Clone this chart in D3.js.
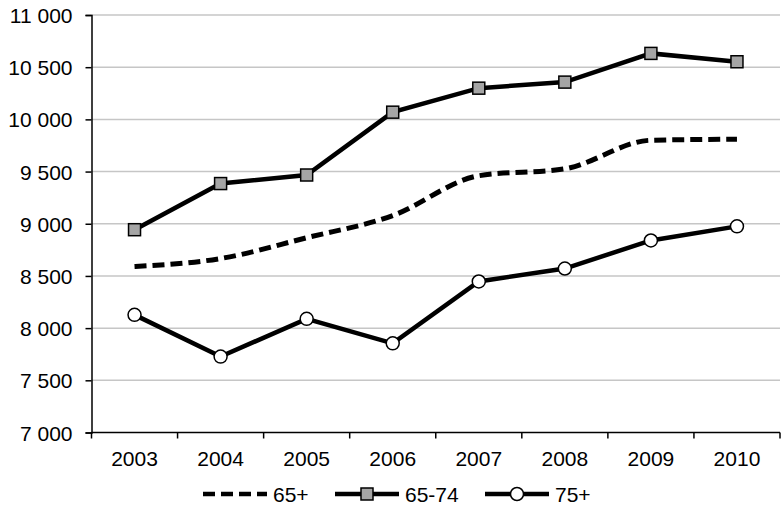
<!DOCTYPE html>
<html>
<head>
<meta charset="utf-8">
<script src="https://d3js.org/d3.v7.min.js"></script>
<style>
    body { margin: 0; background: #fff; }
    svg text { font-family: "Liberation Sans", Arial, sans-serif; fill: #000; }
</style>
</head>
<body>
<div id="chart"></div>
<script>
// data
const years = ["2003", "2004", "2005", "2006", "2007", "2008", "2009", "2010"];
const all65 = [8591, 8667, 8866, 9078, 9460, 9526, 9800, 9810];
const age6574 = [8943, 9385, 9467, 10069, 10299, 10357, 10632, 10552];
const age75 = [8127, 7727, 8089, 7854, 8447, 8571, 8840, 8975];
const yTicks = [7000, 7500, 8000, 8500, 9000, 9500, 10000, 10500, 11000];

const width = 783, height = 516;
const margin = { top: 15, right: 3, bottom: 84, left: 91.5 };
const fontSize = 21;

const svg = d3.select("#chart").append("svg")
    .attr("width", width)
    .attr("height", height);

const x = d3.scaleBand()
    .domain(years)
    .range([margin.left, width - margin.right]);

const y = d3.scaleLinear()
    .domain([7000, 11000])
    .range([height - margin.bottom + 0.5, margin.top]);

const fmt = v => d3.format(",")(v).replace(",", " ");

// gridlines
svg.append("g")
    .selectAll("line")
    .data(yTicks.slice(1))
    .enter().append("line")
    .attr("x1", margin.left)
    .attr("x2", width - margin.right)
    .attr("y1", d => y(d))
    .attr("y2", d => y(d))
    .attr("stroke", "#c6c6c6")
    .attr("stroke-width", 1.5);

// y axis
const yAxis = svg.append("g")
    .attr("transform", `translate(${margin.left},0)`)
    .call(d3.axisLeft(y).tickValues(yTicks).tickFormat(fmt).tickSize(6).tickPadding(13));
yAxis.select(".domain").attr("stroke-width", 1.5);
yAxis.selectAll(".tick line").attr("stroke-width", 1.5);
yAxis.selectAll("text").attr("font-size", fontSize).attr("dy", "0.36em");

// x axis with boundary ticks
const xAxis = svg.append("g")
    .attr("transform", `translate(0,${y(7000)})`);
xAxis.append("line")
    .attr("x1", margin.left).attr("x2", width - margin.right)
    .attr("stroke", "#000").attr("stroke-width", 1.5);
xAxis.selectAll(".tk")
    .data(years.concat(["end"]))
    .enter().append("line")
    .attr("class", "tk")
    .attr("x1", (d, i) => i < years.length ? x(d) : x(years[years.length - 1]) + x.bandwidth())
    .attr("x2", (d, i) => i < years.length ? x(d) : x(years[years.length - 1]) + x.bandwidth())
    .attr("y1", 0).attr("y2", 6)
    .attr("stroke", "#000").attr("stroke-width", 1.5);
xAxis.selectAll("text")
    .data(years)
    .enter().append("text")
    .attr("x", d => x(d) + x.bandwidth() / 2)
    .attr("y", 33.5)
    .attr("text-anchor", "middle")
    .attr("font-size", fontSize)
    .text(d => d);

const cx = (d, i) => x(years[i]) + x.bandwidth() / 2;

// 65+ dashed smooth line
svg.append("path")
    .datum(all65)
    .attr("fill", "none")
    .attr("stroke", "#000")
    .attr("stroke-width", 5)
    .attr("stroke-dasharray", "12,6")
    .attr("d", d3.line().x(cx).y(d => y(d)).curve(d3.curveMonotoneX));

// 65-74 line with squares
svg.append("path")
    .datum(age6574)
    .attr("fill", "none")
    .attr("stroke", "#000")
    .attr("stroke-width", 4.5)
    .attr("d", d3.line().x(cx).y(d => y(d)));
svg.append("g").selectAll("rect")
    .data(age6574)
    .enter().append("rect")
    .attr("x", (d, i) => cx(d, i) - 6)
    .attr("y", d => y(d) - 6)
    .attr("width", 12).attr("height", 12)
    .attr("fill", "#a5a5a5")
    .attr("stroke", "#000")
    .attr("stroke-width", 1.5);

// 75+ line with circles
svg.append("path")
    .datum(age75)
    .attr("fill", "none")
    .attr("stroke", "#000")
    .attr("stroke-width", 4.5)
    .attr("d", d3.line().x(cx).y(d => y(d)));
svg.append("g").selectAll("circle")
    .data(age75)
    .enter().append("circle")
    .attr("cx", cx)
    .attr("cy", d => y(d))
    .attr("r", 6.5)
    .attr("fill", "#fff")
    .attr("stroke", "#000")
    .attr("stroke-width", 1.5);

// legend
const legend = svg.append("g").attr("transform", "translate(0,494)");
const items = [
    { name: "65+", x0: 203, dash: "12,6", marker: null },
    { name: "65-74", x0: 335, dash: null, marker: "square" },
    { name: "75+", x0: 485, dash: null, marker: "circle" }
];
items.forEach(it => {
    legend.append("line")
        .attr("x1", it.x0).attr("x2", it.x0 + 64)
        .attr("stroke", "#000").attr("stroke-width", 4.5)
        .attr("stroke-dasharray", it.dash);
    if (it.marker === "square") {
        legend.append("rect")
            .attr("x", it.x0 + 32 - 6).attr("y", -6)
            .attr("width", 12).attr("height", 12)
            .attr("fill", "#a5a5a5").attr("stroke", "#000").attr("stroke-width", 1.5);
    } else if (it.marker === "circle") {
        legend.append("circle")
            .attr("cx", it.x0 + 32).attr("cy", 0).attr("r", 6.5)
            .attr("fill", "#fff").attr("stroke", "#000").attr("stroke-width", 1.5);
    }
    legend.append("text")
        .attr("x", it.x0 + 70).attr("y", 7.5)
        .attr("font-size", fontSize)
        .text(it.name);
});
</script>
</body>
</html>
